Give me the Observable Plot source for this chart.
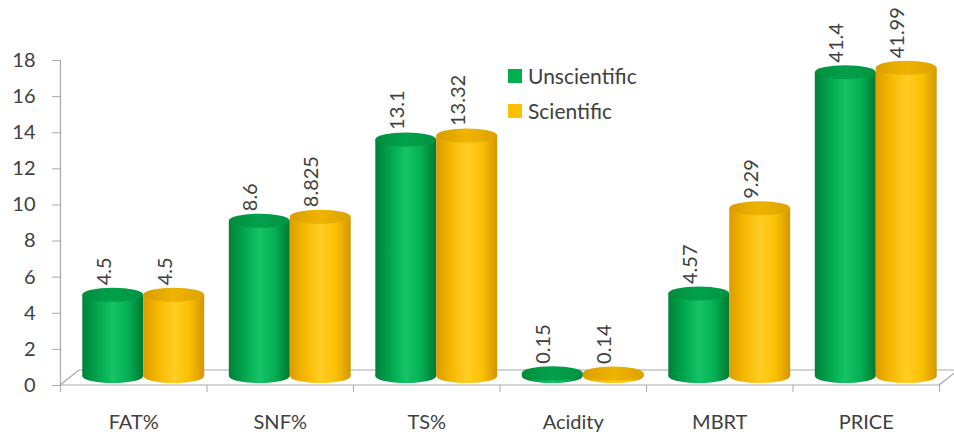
<!DOCTYPE html>
<html>
<head>
<meta charset="utf-8">
<script src="https://cdn.jsdelivr.net/npm/d3@7"></script>
<script src="https://cdn.jsdelivr.net/npm/@observablehq/plot@0.6"></script>
<style>
  html, body { margin: 0; padding: 0; background: #fff; }
  #chart { position: relative; width: 954px; height: 437px; font-family: Lato, "Open Sans", sans-serif; }
  .legend { position: absolute; left: 508px; top: 58px; color: #404040; font-size: 21px; }
  .legend div { display: flex; align-items: center; height: 35px; }
  .legend span.sw { width: 14px; height: 14px; margin-right: 6px; display: inline-block; }
</style>
</head>
<body>
<div id="chart"></div>
<script>
// Milk quality parameters, unscientific vs scientific practice
const categories = ["FAT%", "SNF%", "TS%", "Acidity", "MBRT", "PRICE"];
const unscientific = [4.5, 8.6, 13.1, 0.15, 4.57, 41.4];
const scientific = [4.5, 8.825, 13.32, 0.14, 9.29, 41.99];
const yTicks = [0, 2, 4, 6, 8, 10, 12, 14, 16, 18];
const seriesNames = ["Unscientific", "Scientific"];
// PRICE shares the 0–18 axis, drawn at a reduced scale
const axisFactor = {PRICE: 1 / 2.46};

const colors = {
  Unscientific: {
    body: ["#00813b", "#00a64c", "#14c466", "#05b055", "#00782f"],
    top: ["#018d3c", "#02a14b", "#019341"]
  },
  Scientific: {
    body: ["#dc9c00", "#f6b900", "#ffcd25", "#fbc103", "#d49600"],
    top: ["#d99e00", "#efb400", "#dca200"]
  }
};

const barW = 0.416; // share of a category band taken by each bar
const rows = [];
categories.forEach((c, i) => {
  [unscientific[i], scientific[i]].forEach((v, s) => {
    const x1 = s === 0 ? i + 0.5 - barW : i + 0.5;
    rows.push({
      category: c,
      series: seriesNames[s],
      value: v,
      plotted: v * (axisFactor[c] ?? 1),
      x1, x2: x1 + barW, xc: x1 + barW / 2
    });
  });
});

// depth offsets of the pseudo-3D frame (pixels)
const DX = 10, DY = -9, RY = 7;
let gid = 0;

// Cylinder renderer: body with a horizontal shading gradient, base and top ellipses
function cylinder(name) {
  return (index, scales, values) => {
    const {x1: X1, x2: X2, y1: Y1, y2: Y2} = values;
    const id = `cyl${gid++}`;
    const g = d3.create("svg:g");
    const defs = g.append("defs");
    const body = defs.append("linearGradient").attr("id", id + "b").attr("x1", 0).attr("x2", 1).attr("y1", 0).attr("y2", 0);
    colors[name].body.forEach((c, k, a) => body.append("stop").attr("offset", k / (a.length - 1)).attr("stop-color", c));
    const top = defs.append("linearGradient").attr("id", id + "t").attr("x1", 0).attr("x2", 1).attr("y1", 0).attr("y2", 0);
    colors[name].top.forEach((c, k, a) => top.append("stop").attr("offset", k / (a.length - 1)).attr("stop-color", c));
    for (const i of index) {
      const left = Math.min(X1[i], X2[i]) + DX;
      const w = Math.abs(X2[i] - X1[i]);
      const cx = left + w / 2;
      const base = Y1[i] + DY, tp = Y2[i] + DY;
      g.append("ellipse").attr("cx", cx).attr("cy", base).attr("rx", w / 2).attr("ry", RY).attr("fill", `url(#${id}b)`);
      g.append("rect").attr("x", left).attr("y", tp).attr("width", w).attr("height", Math.max(0, base - tp)).attr("fill", `url(#${id}b)`);
      g.append("ellipse").attr("cx", cx).attr("cy", tp).attr("rx", w / 2).attr("ry", RY).attr("fill", `url(#${id}t)`);
    }
    return g.node();
  };
}

// Floor of the 3D frame: front edge, back edge and the two side diagonals
function floor(index, {x, y}) {
  const x0 = x(0), x6 = x(categories.length), y0 = y(0);
  const bx = 19, by = -15;
  const g = d3.create("svg:g").attr("fill", "none").attr("stroke", "#a9a9a9").attr("stroke-width", 1.2);
  g.append("path").attr("d", `M${x0},${y0}L${x6},${y0}M${x0 + bx},${y0 + by}L${x6 + bx},${y0 + by}M${x0},${y0}L${x0 + bx},${y0 + by}M${x6},${y0}L${x6 + bx},${y0 + by}`);
  return g.node();
}

const chart = Plot.plot({
  width: 954,
  height: 437,
  marginTop: 60,
  marginBottom: 52,
  marginLeft: 60,
  marginRight: 15,
  style: {fontFamily: "Lato, 'Open Sans', sans-serif", background: "#fff", overflow: "visible"},
  x: {domain: [0, categories.length], axis: null},
  y: {domain: [0, 18], axis: null},
  marks: [
    floor,
    Plot.ruleX([0], {y1: 0, y2: 18, stroke: "#a9a9a9", strokeWidth: 1.2}),
    Plot.axisY({ticks: yTicks, tickSize: 8, tickPadding: 17, fontSize: 20, fill: "#404040", stroke: "#a9a9a9", label: null}),
    Plot.axisX({ticks: d3.range(categories.length + 1), tickSize: 7, tickFormat: () => "", stroke: "#a9a9a9", label: null}),
    Plot.axisX({ticks: categories.map((c, i) => i + 0.5), tickSize: 0, tickPadding: 29, tickFormat: (d) => categories[Math.floor(d)], fontSize: 20, fill: "#404040", label: null}),
    ...seriesNames.map((name) =>
      Plot.rect(rows.filter((d) => d.series === name), {
        x1: "x1", x2: "x2", y1: () => 0, y2: "plotted",
        render: cylinder(name)
      })
    ),
    Plot.text(rows, {
      x: "xc", y: "plotted", text: (d) => String(d.value),
      rotate: -90, textAnchor: "start", dx: 1, dy: DY - RY - 3,
      fontSize: 20, fill: "#404040"
    })
  ]
});

const root = document.getElementById("chart");
root.appendChild(chart);
const legend = document.createElement("div");
legend.className = "legend";
seriesNames.forEach((name) => {
  const row = document.createElement("div");
  const sw = document.createElement("span");
  sw.className = "sw";
  sw.style.background = name === "Unscientific" ? "#00b050" : "#ffc000";
  row.appendChild(sw);
  row.appendChild(document.createTextNode(name));
  legend.appendChild(row);
});
root.appendChild(legend);
</script>
</body>
</html>
